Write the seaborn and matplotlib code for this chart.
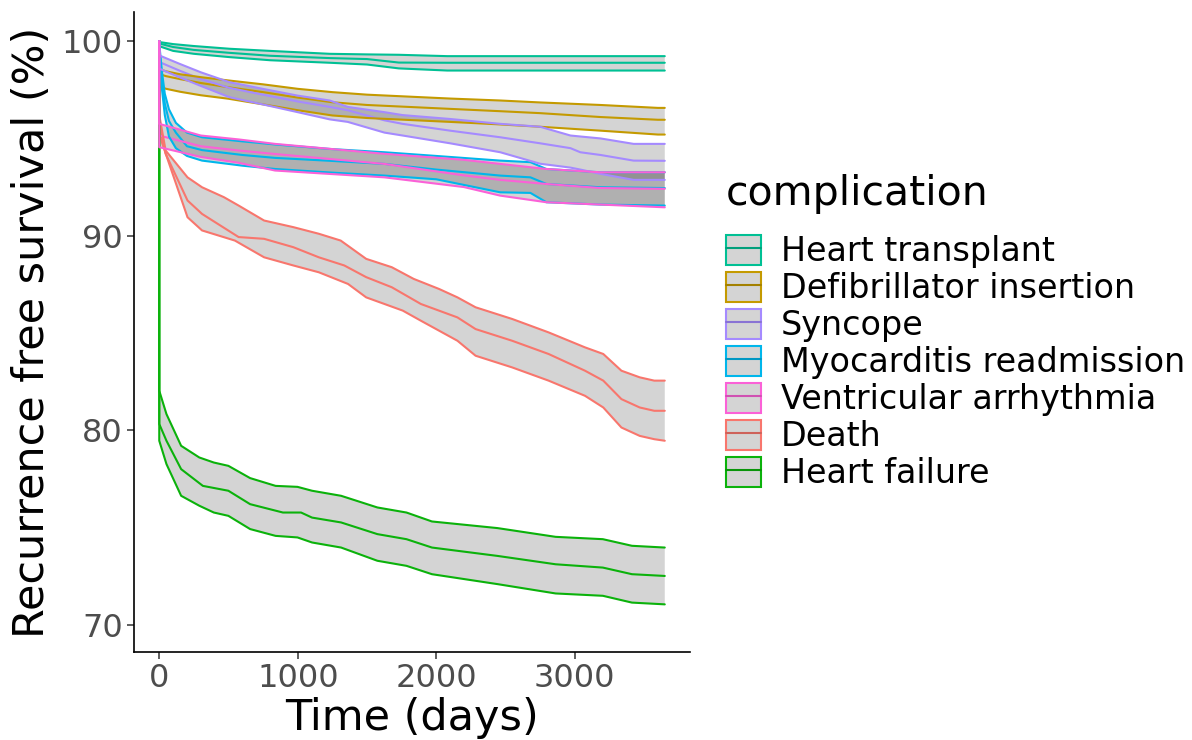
import numpy as np
import matplotlib
matplotlib.use("Agg")
import matplotlib.pyplot as plt
import seaborn as sns
from matplotlib.patches import Patch
from matplotlib.lines import Line2D

# ---------------- data ----------------
groups = ["Heart transplant", "Defibrillator insertion", "Syncope",
          "Myocarditis readmission", "Ventricular arrhythmia", "Death",
          "Heart failure"]
# drawing order (alphabetical factor levels)
draw_order = ["Death", "Defibrillator insertion", "Heart failure", "Heart transplant",
              "Myocarditis readmission", "Syncope", "Ventricular arrhythmia"]
colors = {"Death": "#F8766D", "Defibrillator insertion": "#C49A00",
          "Heart failure": "#0BB20B", "Heart transplant": "#00C094",
          "Myocarditis readmission": "#00B6EB", "Syncope": "#A58AFF",
          "Ventricular arrhythmia": "#FB61D7"}

ht_t = [0, 5, 100, 250, 507, 800, 1231, 1500, 1730, 2080, 3650]
ht_hi = [100, 99.95, 99.85, 99.75, 99.61, 99.5, 99.35, 99.32, 99.3, 99.23, 99.23]
ht_mid = [100, 99.87, 99.7, 99.55, 99.4, 99.25, 99.13, 99.08, 98.9, 98.89, 98.89]
ht_lo = [100, 99.73, 99.5, 99.35, 99.18, 99.02, 98.89, 98.8, 98.6, 98.49, 98.49]

def_t = [0, 3, 50, 150, 300, 500, 750, 1000, 1250, 1500, 1800, 2100, 2462, 2750, 3186, 3600, 3650]
def_hi = [100, 98.55, 98.45, 98.3, 98.15, 97.98, 97.78, 97.55, 97.38, 97.25, 97.15, 97.05, 96.95, 96.85, 96.72, 96.57, 96.57]
def_mid = [100, 98.3, 98.2, 98.05, 97.85, 97.63, 97.38, 97.1, 96.86, 96.72, 96.62, 96.52, 96.4, 96.3, 96.1, 95.96, 95.96]
def_lo = [100, 97.65, 97.55, 97.4, 97.22, 97.04, 96.75, 96.45, 96.18, 96.05, 95.95, 95.85, 95.72, 95.6, 95.4, 95.2, 95.2]

syn_t = [0, 3, 145, 300, 507, 747, 1000, 1231, 1361, 1626, 1757, 2100, 2462, 2750, 2969, 3040, 3186, 3425, 3650]
syn_hi = [100, 99.26, 98.84, 98.4, 97.89, 97.55, 97.2, 96.95, 96.62, 96.35, 96.2, 96.0, 95.75, 95.6, 95.15, 95.1, 95.0, 94.72, 94.72]
syn_mid = [100, 98.92, 98.49, 98.05, 97.6, 97.25, 96.9, 96.62, 96.45, 95.93, 95.75, 95.4, 95.06, 94.75, 94.5, 94.29, 94.15, 93.86, 93.85]
syn_lo = [100, 98.58, 98.15, 97.7, 97.12, 96.75, 96.35, 95.98, 95.85, 95.3, 95.15, 94.75, 94.29, 93.7, 93.5, 93.4, 93.18, 92.87, 92.87]

myo_t = [0, 5, 20, 40, 70, 120, 200, 309, 600, 836, 1231, 1626, 2000, 2462, 2680, 2795, 3186, 3650]
myo_hi = [100, 99.5, 98.4, 97.3, 96.5, 95.8, 95.3, 95.06, 94.85, 94.69, 94.46, 94.29, 94.1, 93.86, 93.78, 93.43, 93.26, 93.26]
myo_mid = [100, 99.3, 98.0, 96.8, 95.9, 95.3, 94.6, 94.4, 94.15, 94.0, 93.85, 93.69, 93.4, 93.09, 93.0, 92.66, 92.49, 92.45]
myo_lo = [100, 99.0, 97.5, 96.2, 95.1, 94.5, 94.1, 93.86, 93.6, 93.43, 93.25, 93.09, 92.9, 92.23, 92.2, 91.72, 91.6, 91.55]

va_t = [0, 0, 300, 572, 836, 1626, 2200, 2462, 2795, 3186, 3650]
va_hi = [100, 95.75, 95.15, 94.95, 94.72, 94.21, 93.9, 93.69, 93.43, 93.26, 93.26]
va_mid = [100, 95.15, 94.6, 94.38, 94.2, 93.69, 93.1, 92.87, 92.66, 92.45, 92.41]
va_lo = [100, 94.55, 94.05, 93.75, 93.35, 93.0, 92.5, 92.06, 91.72, 91.6, 91.46]

death_t_hi = [0, 0, 46, 204, 309, 467, 573, 757, 968, 1152, 1310, 1494, 1679, 1837, 2021, 2153, 2284, 2548, 2811, 3074, 3206, 3337, 3469, 3574, 3650]
death_hi = [100, 96.2, 94.38, 93.0, 92.49, 91.98, 91.55, 90.78, 90.44, 90.1, 89.75, 88.81, 88.38, 87.78, 87.26, 86.83, 86.32, 85.72, 85.03, 84.26, 83.92, 83.06, 82.72, 82.55, 82.55]
death_t_mid = [0, 0, 46, 204, 309, 573, 757, 968, 1152, 1336, 1494, 1679, 1889, 2153, 2284, 2548, 2811, 3074, 3206, 3337, 3469, 3574, 3650]
death_mid = [100, 95.7, 94.21, 91.81, 91.12, 89.93, 89.84, 89.41, 88.89, 88.47, 87.87, 87.35, 86.49, 85.80, 85.20, 84.60, 83.92, 83.06, 82.55, 81.60, 81.17, 81.0, 81.0]
death_t_lo = [0, 0, 72, 204, 309, 546, 757, 968, 1152, 1363, 1494, 1758, 1889, 2153, 2284, 2548, 2811, 3074, 3206, 3337, 3469, 3574, 3650]
death_lo = [100, 95.2, 93.69, 90.95, 90.27, 89.75, 88.89, 88.47, 88.12, 87.52, 86.83, 86.15, 85.63, 84.60, 83.83, 83.23, 82.55, 81.77, 81.17, 80.14, 79.71, 79.54, 79.46]

hf_t = [0, 0, 52, 158, 289, 394, 499, 656, 840, 998, 1103, 1313, 1575, 1785, 1969, 2442, 2862, 3203, 3413, 3650]
hf_hi = [100, 82.03, 80.83, 79.2, 78.6, 78.34, 78.17, 77.54, 77.14, 77.09, 76.89, 76.63, 76.03, 75.77, 75.31, 74.97, 74.52, 74.4, 74.06, 73.97]
hf_lo = [100, 79.46, 78.26, 76.63, 76.12, 75.77, 75.6, 74.92, 74.57, 74.49, 74.23, 73.97, 73.29, 73.03, 72.60, 72.09, 71.61, 71.49, 71.14, 71.05]
hf_t_mid = [0, 0, 52, 158, 315, 499, 656, 893, 1024, 1103, 1313, 1575, 1785, 1969, 2442, 2862, 3203, 3413, 3650]
hf_mid = [100, 80.32, 79.46, 78.0, 77.14, 76.89, 76.2, 75.77, 75.77, 75.51, 75.26, 74.66, 74.40, 73.97, 73.54, 73.11, 72.94, 72.60, 72.51]

curves = {
    "Heart transplant": (ht_t, ht_mid, ht_t, ht_lo, ht_t, ht_hi),
    "Defibrillator insertion": (def_t, def_mid, def_t, def_lo, def_t, def_hi),
    "Syncope": (syn_t, syn_mid, syn_t, syn_lo, syn_t, syn_hi),
    "Myocarditis readmission": (myo_t, myo_mid, myo_t, myo_lo, myo_t, myo_hi),
    "Ventricular arrhythmia": (va_t, va_mid, va_t, va_lo, va_t, va_hi),
    "Death": (death_t_mid, death_mid, death_t_lo, death_lo, death_t_hi, death_hi),
    "Heart failure": (hf_t_mid, hf_mid, hf_t, hf_lo, hf_t, hf_hi),
}

x_ticks = [0, 1000, 2000, 3000]
y_ticks = [70, 80, 90, 100]

# ---------------- style ----------------
sns.set_style("ticks")
plt.rcParams["font.family"] = ["DejaVu Sans"]
plt.rcParams["text.color"] = "black"

fig = plt.figure(figsize=(11.92, 7.40), dpi=100)
ax = fig.add_axes([0.1124, 0.1189, 0.5789 - 0.1124, 0.9838 - 0.1189])

LW = 1.5
FILL = (0, 0, 0, 0.17)

# layer 1: center lines
for g in draw_order:
    tm, m, tl, l, th, h = curves[g]
    sns.lineplot(x=tm, y=m, color=colors[g], lw=LW, estimator=None, sort=False,
                 ax=ax, legend=False)
# layer 2: ribbons with coloured outlines
for g in draw_order:
    tm, m, tl, l, th, h = curves[g]
    px = np.concatenate([np.asarray(th, float), np.asarray(tl, float)[::-1]])
    py = np.concatenate([np.asarray(h, float), np.asarray(l, float)[::-1]])
    ax.fill(px, py, color=FILL, lw=0)
    sns.lineplot(x=th, y=h, color=colors[g], lw=LW, estimator=None, sort=False,
                 ax=ax, legend=False)
    sns.lineplot(x=tl, y=l, color=colors[g], lw=LW, estimator=None, sort=False,
                 ax=ax, legend=False)

ax.set_xlim(-182.5, 3832.5)
ax.set_ylim(68.6, 101.5)
ax.set_xticks(x_ticks)
ax.set_yticks(y_ticks)
ax.tick_params(axis="both", labelsize=23, labelcolor="#4D4D4D", color="#333333",
               length=5, width=1.1, pad=3)
ax.set_xlabel("Time (days)", fontsize=31, color="black", labelpad=2)
ax.set_ylabel("Recurrence free survival (%)", fontsize=31, color="black", labelpad=6)
sns.despine(ax=ax)
for s in ["left", "bottom"]:
    ax.spines[s].set_linewidth(1.2)
    ax.spines[s].set_color("black")

# legend
handles = []
for g in groups:
    c = np.array(matplotlib.colors.to_rgb(colors[g]))
    dark = tuple(c * 0.83)
    handles.append((Patch(facecolor=FILL, edgecolor=colors[g], lw=LW),
                    Line2D([], [], color=dark, lw=LW)))
leg = ax.legend(handles, groups, title="complication", loc="center left",
                bbox_to_anchor=(1.065, 0.5), frameon=False, borderpad=0,
                borderaxespad=0, handlelength=1.03, handleheight=1.03,
                handletextpad=0.6, labelspacing=0.1, alignment="left",
                fontsize=24, title_fontsize=29.5, labelcolor="black")
leg.get_title().set_color("black")
leg._legend_box.sep = 15

fig.savefig("out.png", dpi=100)
